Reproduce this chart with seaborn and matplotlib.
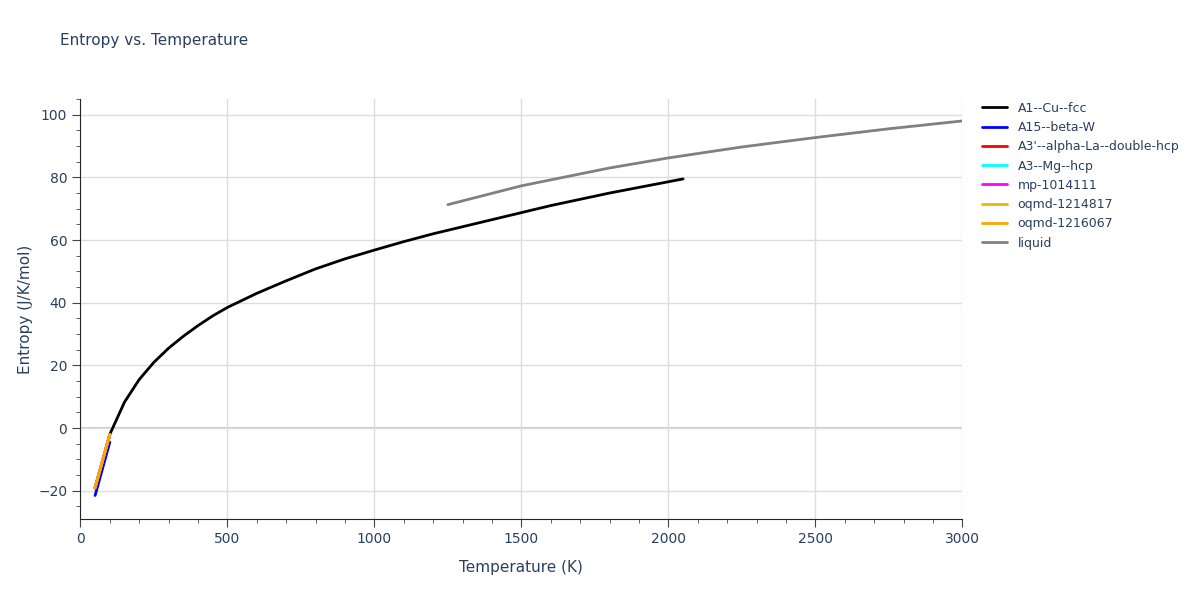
import numpy as np
import pandas as pd
import seaborn as sns
import matplotlib.pyplot as plt
from matplotlib.ticker import MultipleLocator

sns.set_style('white')
plt.rcParams['font.family'] = ['DejaVu Sans']

# data
t_fcc = [50, 100, 150, 200, 250, 300, 350, 400, 450, 500, 600, 700, 800, 900, 1000,
         1100, 1200, 1400, 1600, 1800, 2050]
s_fcc = [-19, -2, 8.3, 15.5, 21, 25.5, 29.3, 32.7, 35.8, 38.5, 43, 47, 50.8, 54, 56.8,
         59.5, 62, 66.5, 71, 75, 79.5]
t_low = [50, 100]
s_bw = [-21.5, -4.5]
s_la = [-19.2, -2.2]
s_mg = [-19.1, -2.1]
s_mp = [-19.1, -2.1]
s_oq1 = [-19.0, -2.0]
s_oq2 = [-19.0, -2.0]
t_liq = [1250, 1500, 1800, 2000, 2250, 2500, 2750, 3000]
s_liq = [71.3, 77.3, 83, 86.2, 89.7, 92.7, 95.5, 98]

names = ['A1--Cu--fcc', 'A15--beta-W', "A3'--alpha-La--double-hcp", 'A3--Mg--hcp',
         'mp-1014111', 'oqmd-1214817', 'oqmd-1216067', 'liquid']
colors = ['black', 'blue', 'red', 'cyan', 'magenta', '#e6b800', 'orange', 'gray']
series = [(t_fcc, s_fcc), (t_low, s_bw), (t_low, s_la), (t_low, s_mg), (t_low, s_mp),
          (t_low, s_oq1), (t_low, s_oq2), (t_liq, s_liq)]

rows = []
for n, (t, s) in zip(names, series):
    for a, b in zip(t, s):
        rows.append({'T': a, 'S': b, 'phase': n})
df = pd.DataFrame(rows)

fig, ax = plt.subplots(figsize=(12, 6), dpi=100)
fig.subplots_adjust(left=0.067, right=0.802, top=0.835, bottom=0.135)
sns.lineplot(data=df, x='T', y='S', hue='phase', hue_order=names,
             palette=dict(zip(names, colors)), sort=False, estimator=None,
             linewidth=2, ax=ax)

ax.set_xlim(0, 3000)
ax.set_ylim(-29, 105)
ax.xaxis.set_major_locator(MultipleLocator(500))
ax.xaxis.set_minor_locator(MultipleLocator(100))
ax.yaxis.set_major_locator(MultipleLocator(20))
ax.yaxis.set_minor_locator(MultipleLocator(5))
ax.grid(True, which='major', color='#dddddd', linewidth=1)
ax.axhline(0, color='#cccccc', linewidth=1.5, zorder=0)
for sp in ['top', 'right']:
    ax.spines[sp].set_visible(False)
ax.tick_params(which='both', direction='out', bottom=True, left=True, colors='#444444',
               labelcolor='#2a3f5f', labelsize=10)
ax.tick_params(which='major', length=6)
ax.tick_params(which='minor', length=3)
ax.set_xlabel('Temperature (K)', color='#2a3f5f', fontsize=11, labelpad=10)
ax.set_ylabel('Entropy (J/K/mol)', color='#2a3f5f', fontsize=11)
fig.text(0.05, 0.925, 'Entropy vs. Temperature', color='#2a3f5f', fontsize=11)
leg = ax.legend(loc='upper left', bbox_to_anchor=(1.01, 1.02), frameon=False, fontsize=9)
for t in leg.get_texts():
    t.set_color('#2a3f5f')
plt.savefig('out.png')
